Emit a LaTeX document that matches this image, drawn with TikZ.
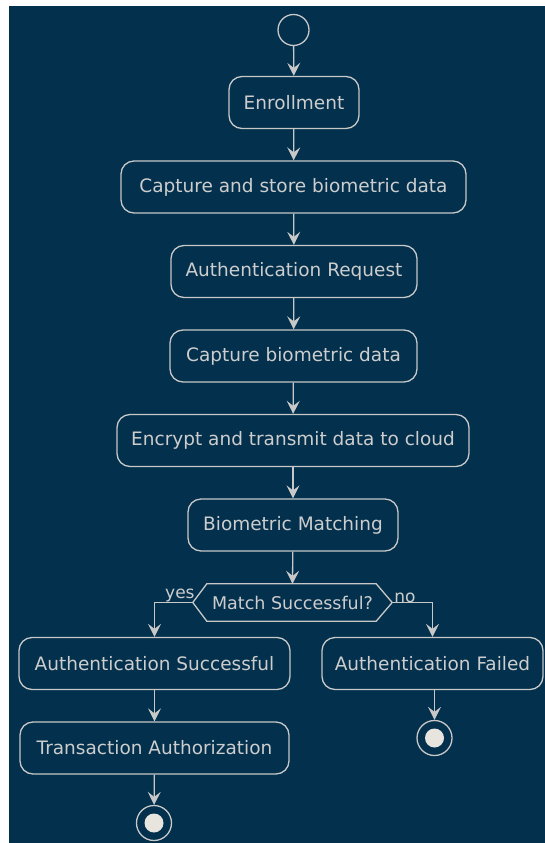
\documentclass[tikz,border=0pt]{standalone}
\usepackage{fontspec}
\setmainfont{DejaVu Sans}
\usetikzlibrary{arrows.meta}
\definecolor{bg}{RGB}{2,48,77}
\definecolor{lc}{RGB}{200,200,200}
\definecolor{tc}{RGB}{205,205,205}
\definecolor{dot}{RGB}{232,228,222}
\begin{document}
\begin{tikzpicture}[x=1pt,y=-1pt,
  box/.style={draw=lc, line width=1.3pt, rounded corners=13pt, minimum height=52pt, inner xsep=0pt, text=tc, font=\fontsize{18.5}{22}\selectfont},
  flow/.style={draw=lc, line width=1.3pt, -{Stealth[length=13pt,width=13pt,inset=5pt]}},
  lbl/.style={text=tc, font=\fontsize{17}{20}\selectfont, inner sep=1pt},
  ring/.style={circle, draw=lc, line width=1.3pt, inner sep=0pt},
  dotc/.style={circle, fill=dot, inner sep=0pt, minimum size=19pt}]
\fill[white] (0,0) rectangle (545,843);
\fill[bg] (9,6) rectangle (545,843);
\useasboundingbox (0,0) rectangle (545,843);

\node[ring, minimum size=31pt] (start) at (293.5,30) {};
\node[box, minimum width=130pt] (n1) at (294,102.5) {Enrollment};
\node[box, minimum width=345pt] (n2) at (293.5,187) {Capture and store biometric data};
\node[box, minimum width=246pt] (n3) at (294,271.5) {Authentication Request};
\node[box, minimum width=247pt] (n4) at (293.5,356) {Capture biometric data};
\node[box, minimum width=352pt] (n5) at (293,440.5) {Encrypt and transmit data to cloud};
\node[box, minimum width=210pt] (n6) at (293,525) {Biometric Matching};
\node[inner sep=0pt, minimum width=199pt, minimum height=37pt, text=tc, font=\fontsize{17.5}{20}\selectfont] (dec) at (292.5,602.5) {Match Successful?};
\draw[lc, line width=1.3pt] (dec.west) -- ([xshift=14pt]dec.north west) -- ([xshift=-16pt]dec.north east) -- (dec.east) -- ([xshift=-16pt]dec.south east) -- ([xshift=14pt]dec.south west) -- cycle;
\node[box, minimum width=271pt] (s1) at (154.5,663.5) {Authentication Successful};
\node[box, minimum width=221pt] (f1) at (432.5,663.5) {Authentication Failed};
\node[box, minimum width=269pt] (s2) at (154.5,748) {Transaction Authorization};
\node[ring, minimum size=35pt] (endA) at (154,823) {};
\node[dotc] (endAdot) at (154,823) {};
\node[ring, minimum size=35pt] (endB) at (434.5,738) {};
\node[dotc] (endBdot) at (434.5,738) {};

\draw[flow] (start) -- (n1);
\draw[flow] (n1) -- (n2);
\draw[flow] (n2) -- (n3);
\draw[flow] (n3) -- (n4);
\draw[flow] (n4) -- (n5);
\draw[flow] (n5) -- (n6);
\draw[flow] (n6) -- (dec.north);
\draw[flow] (dec.west) -| (s1.north);
\draw[flow] (dec.east) -| (f1.north);
\draw[flow] (s1) -- (s2);
\draw[flow] (s2) -- (endA);
\draw[flow] (f1.south -| endB) -- (endB);
\node[lbl, anchor=south east] (yes) at ([xshift=3pt,yshift=-1pt]dec.west) {yes};
\node[lbl, anchor=south west] (no) at ([xshift=1pt,yshift=-1pt]dec.east) {no};
\end{tikzpicture}
\end{document}
